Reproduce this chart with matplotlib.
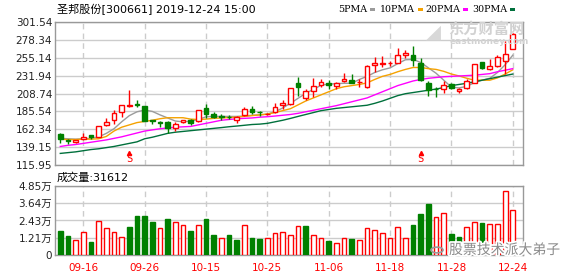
import matplotlib
matplotlib.use("Agg")
import matplotlib.pyplot as plt
from matplotlib.patches import Rectangle, Circle
import matplotlib.patheffects as pe

plt.rcParams['font.family'] = ['DejaVu Sans', 'Noto Sans CJK SC']

# ==== データ ====
opens = [155.8, 148.8, 146.2, 149.3, 154.5, 152.7, 167.4, 174.0, 185.1, 192.5,
         194.5, 192.5, 174.3, 172.3, 171.3, 164.4, 171.3, 174.3, 173.0, 190.3,
         182.5, 179.5, 178.6, 174.3, 180.4, 189.0, 184.6, 181.8, 184.7, 194.2,
         195.1, 222.0, 202.5, 212.0, 219.4, 222.8, 218.9, 225.0, 226.6, 223.4,
         216.7, 245.7, 247.6, 247.7, 248.7, 258.3, 259.1, 248.7, 222.2, 214.8,
         215.0, 221.5, 212.0, 215.9, 222.4, 249.6, 240.9, 244.0, 250.5, 266.0]
highs = [157.9, 149.6, 148.8, 157.0, 154.9, 166.5, 177.3, 187.3, 193.8, 213.3,
         200.3, 193.0, 175.0, 172.8, 173.4, 171.7, 174.8, 175.2, 186.9, 195.0,
         184.5, 182.0, 180.5, 179.5, 190.8, 192.5, 186.5, 184.0, 196.8, 200.3,
         215.5, 230.6, 214.2, 228.5, 227.2, 226.3, 224.1, 235.0, 234.0, 227.6,
         245.5, 256.5, 257.4, 250.5, 267.4, 264.8, 270.6, 254.4, 224.8, 217.2,
         224.6, 222.5, 216.3, 228.0, 247.4, 250.2, 253.9, 258.5, 276.4, 286.8]
lows = [144.1, 143.2, 145.0, 148.4, 149.3, 151.9, 166.5, 169.1, 178.6, 190.8,
        191.6, 172.5, 169.1, 165.6, 157.0, 160.4, 170.5, 168.5, 171.3, 177.0,
        176.5, 175.0, 175.5, 170.0, 179.5, 182.1, 179.5, 180.5, 183.0, 188.2,
        193.8, 205.9, 200.3, 204.6, 217.6, 214.6, 214.2, 224.1, 222.0, 217.6,
        216.0, 237.0, 243.5, 245.0, 247.9, 254.8, 245.0, 225.0, 205.5, 204.2,
        209.8, 215.0, 209.4, 215.0, 222.4, 240.2, 239.6, 243.5, 234.7, 266.0]
closes = [149.3, 146.7, 148.4, 152.7, 152.3, 166.5, 171.7, 183.0, 193.8, 193.3,
          193.6, 173.2, 173.0, 171.0, 163.6, 169.1, 174.3, 170.9, 186.9, 182.1,
          177.8, 177.9, 178.0, 177.8, 188.2, 184.7, 184.1, 182.4, 190.8, 196.8,
          215.5, 217.6, 212.0, 218.5, 223.7, 219.8, 222.0, 227.2, 222.8, 224.0,
          244.8, 247.9, 248.0, 248.2, 258.7, 261.3, 252.6, 226.6, 213.1, 214.4,
          220.2, 215.9, 215.0, 224.6, 247.4, 242.2, 244.4, 256.1, 259.6, 286.4]

ma5 = [150.6, 150.0, 149.5, 150.0, 150.5, 152.5, 157.0, 163.0, 172.0, 180.0,
       185.0, 187.3, 185.5, 181.0, 177.0, 173.0, 172.0, 173.0, 175.0, 178.5,
       179.0, 179.0, 179.0, 179.0, 179.5, 180.5, 181.0, 182.0, 185.0, 190.0,
       196.0, 202.5, 209.0, 214.0, 219.5, 221.0, 221.5, 222.0, 222.0, 227.0,
       231.0, 236.0, 239.5, 242.0, 247.5, 252.5, 253.0, 249.0, 242.0, 235.0,
       226.0, 217.0, 216.0, 218.0, 223.0, 226.0, 228.5, 236.0, 246.0, 258.5]
ma10 = [149.3, 149.0, 149.0, 149.5, 149.5, 150.0, 153.0, 160.0, 165.0, 168.0,
        171.0, 172.5, 174.0, 176.0, 177.3, 177.3, 177.3, 175.5, 175.0, 175.5,
        176.5, 177.0, 177.5, 178.0, 179.0, 180.0, 181.0, 182.0, 184.0, 186.5,
        189.0, 194.0, 199.0, 203.0, 207.0, 211.0, 215.0, 217.5, 219.0, 220.5,
        222.5, 227.0, 231.0, 233.5, 237.0, 240.0, 242.5, 242.5, 241.0, 240.0,
        237.5, 234.0, 231.5, 228.5, 226.0, 226.0, 226.0, 229.0, 234.0, 239.5]
ma20 = [140.0, 141.5, 142.5, 144.0, 145.5, 147.0, 148.5, 150.5, 152.5, 155.0,
        157.5, 160.0, 161.5, 163.0, 164.0, 165.0, 165.5, 166.0, 168.0, 170.0,
        172.0, 174.0, 175.0, 176.0, 176.5, 177.0, 178.0, 178.6, 179.5, 180.5,
        181.5, 183.0, 185.0, 187.0, 189.0, 191.0, 193.0, 195.5, 198.0, 200.5,
        203.0, 207.0, 211.0, 215.0, 219.0, 222.0, 225.0, 227.0, 228.5, 229.5,
        230.5, 231.0, 231.5, 232.0, 232.5, 233.5, 234.5, 237.0, 239.0, 241.0]
ma30 = [131.0, 132.0, 133.0, 134.5, 136.0, 137.0, 138.5, 140.0, 142.0, 144.0,
        146.0, 150.0, 152.0, 154.5, 157.0, 158.5, 159.5, 160.5, 161.5, 162.5,
        163.5, 164.5, 165.6, 166.5, 167.5, 168.5, 169.0, 170.0, 172.0, 174.0,
        176.4, 179.0, 181.5, 184.0, 186.5, 188.0, 189.5, 190.5, 191.5, 192.5,
        193.5, 196.0, 199.0, 202.5, 206.0, 208.5, 210.0, 211.5, 213.0, 214.5,
        216.5, 219.0, 220.5, 222.0, 224.0, 226.0, 228.0, 230.0, 232.0, 234.0]

# 成交量 (万)
volume = [1.69, 1.34, 1.05, 1.62, 0.94, 2.37, 1.87, 1.62, 1.24, 1.97,
          2.74, 2.74, 2.32, 1.87, 2.53, 2.32, 2.09, 1.69, 2.09, 2.53,
          1.41, 1.17, 1.41, 1.05, 2.09, 1.19, 1.12, 1.19, 1.52, 1.62,
          1.38, 2.01, 2.01, 1.38, 1.17, 0.98, 0.82, 1.17, 1.10, 1.05,
          1.87, 1.73, 1.52, 1.17, 1.94, 1.17, 2.11, 2.88, 3.58, 2.65,
          2.93, 1.48, 1.27, 1.94, 2.32, 2.27, 2.16, 2.16, 4.47, 3.1612]
vol_up = [0, 0, 1, 1, 0, 1, 1, 1, 1, 0,
          0, 0, 0, 1, 0, 1, 1, 0, 1, 0,
          0, 1, 0, 0, 1, 0, 0, 1, 1, 1,
          1, 1, 0, 1, 1, 0, 1, 1, 0, 1,
          1, 1, 1, 1, 1, 1, 0, 0, 0, 1,
          1, 0, 0, 1, 1, 0, 1, 1, 1, 1]

date_idx = [3, 11, 19, 27, 35, 43, 51, 59]
date_labels = ["09-16", "09-26", "10-15", "10-25", "11-06", "11-18", "11-28", "12-24"]
price_ticks = [115.95, 139.15, 162.34, 185.54, 208.74, 231.94, 255.14, 278.34, 301.54]
vol_ticks = [0, 1.21, 2.43, 3.64, 4.85]
signal_idx = [9, 47]

RED = "#ff0000"
GREEN = "#008000"
GRID = "#cccccc"
FRAME = "#999999"
TXT = "#222222"
W, H = 578, 276

fig = plt.figure(figsize=(W / 100, H / 100), dpi=100)
ax = fig.add_axes([55 / W, 1 - 165 / H, 468 / W, 143 / H])
axv = fig.add_axes([55 / W, 1 - 255 / H, 468 / W, 69 / H])

n = len(closes)
xs = list(range(n))
bw = 0.62

# ==== ローソク足 ====
for i in xs:
    up = closes[i] >= opens[i]
    c = RED if up else GREEN
    ax.vlines(i, lows[i], highs[i], color=c, lw=1, zorder=3)
    lo, hi = min(opens[i], closes[i]), max(opens[i], closes[i])
    ax.add_patch(Rectangle((i - bw / 2, lo), bw, max(hi - lo, 0.01),
                           facecolor="white" if up else c, edgecolor=c, lw=1, zorder=4))

for vals, col in [(ma5, "#9b9b9b"), (ma10, "#f5a200"), (ma20, "#ff00ff"), (ma30, "#00703c")]:
    ax.plot(xs, vals, color=col, lw=1, zorder=2)

for i in signal_idx:
    ax.plot(i, 131.5, marker="^", ms=3, color=RED, zorder=5, clip_on=False)
    ax.text(i, 123.5, "S", color=RED, fontsize=7.5, ha="center", va="center",
            fontfamily="DejaVu Sans Mono", zorder=5)

# ==== 出来高 ====
for i in xs:
    c = RED if vol_up[i] else GREEN
    axv.bar(i, volume[i], width=bw, facecolor="white" if vol_up[i] else c,
            edgecolor=c, lw=1, zorder=3)

# ==== 軸の体裁 ====
for a in (ax, axv):
    a.set_xlim(-0.69, 60.33)
    for s in a.spines.values():
        s.set_color(FRAME)
        s.set_linewidth(1)
    for i in date_idx:
        a.axvline(i, color=GRID, lw=1, dashes=(4, 3), zorder=1)
    a.tick_params(length=0, labelsize=7.5, colors=TXT, pad=2)
    a.grid(axis="y", color=GRID, lw=1, zorder=1)
    a.set_axisbelow(True)

ax.set_ylim(price_ticks[0], price_ticks[-1])
ax.set_yticks(price_ticks)
ax.set_yticklabels([f"{v:.2f}" for v in price_ticks])
ax.set_xticks([])

axv.set_ylim(vol_ticks[0], vol_ticks[-1])
axv.set_yticks(vol_ticks)
axv.set_yticklabels(["0"] + [f"{v:.2f}万" for v in vol_ticks[1:]])
axv.set_xticks(date_idx)
axv.set_xticklabels(date_labels, color=RED)
axv.tick_params(axis="x", pad=6)

# ==== テキスト ====
def px(x, y):
    return x / W, 1 - y / H

fig.text(*px(57, 9), "圣邦股份[300661] 2019-12-24 15:00", fontsize=8, color="black",
         va="center", ha="left")
fig.text(*px(57, 178), "成交量:31612", fontsize=8, color="black", va="center", ha="left")

legend = [("5PMA", "#9b9b9b", 338), ("10PMA", "#f5a200", 380),
          ("20PMA", "#ff00ff", 425), ("30PMA", "#00703c", 472)]
for lab, col, x0 in legend:
    t = fig.text(*px(x0, 9), lab, fontsize=6.8, color="black", va="center", ha="left",
                 fontfamily="DejaVu Serif")
    fig.canvas.draw()
    bb = t.get_window_extent()
    sx = bb.x1 + 3
    fig.add_artist(Rectangle((sx / W, 1 - 11 / H), 5 / W, 3 / H,
                             facecolor=col, edgecolor="none", transform=fig.transFigure))

# ウォーターマーク
fig.text(*px(448, 29), "东方财富网", fontsize=11, color="#d2d2d2", fontweight="bold",
         va="center", ha="left", zorder=1)
fig.text(*px(450, 41), "eastmoney.com", fontsize=6.5, color="#d2d2d2", fontweight="bold",
         va="center", ha="left", zorder=1)
fig.text(*px(433, 32), "◢", fontsize=14, color="#d8d8d8", va="center", ha="center")

fig.add_artist(Circle(px(437, 250), 6 / W, facecolor="none", edgecolor="#9a9a9a", lw=1.2,
                      transform=fig.transFigure))
fig.text(*px(449, 250), "股票技术派大弟子", fontsize=10, color="#8a8a8a", va="center",
         ha="left", path_effects=[pe.withStroke(linewidth=2.5, foreground="white")])

fig.savefig("out.png", dpi=100)
